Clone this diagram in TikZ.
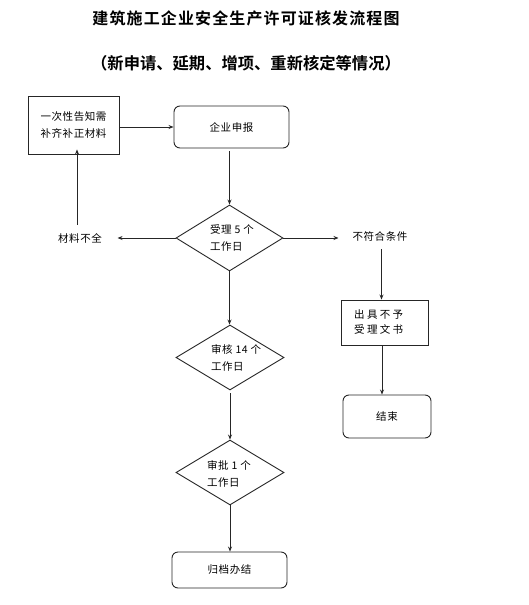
\documentclass[tikz,border=0pt]{standalone}
\usepackage{fontspec}
\newfontfamily\cjk{Noto Sans CJK SC}
\newfontfamily\cjkb{Noto Sans CJK SC Bold}
\usetikzlibrary{shapes.geometric,arrows.meta}
\begin{document}
\begin{tikzpicture}[x=1pt,y=-1pt,
  every node/.style={font=\cjk\fontsize{10.5}{17}\selectfont\addfontfeature{LetterSpace=5}, inner sep=0pt},
  line/.style={draw=black!85, line width=0.9pt},
  arr/.style={line, -{Stealth[length=5pt,width=4pt]}},
  sbox/.style={line},
  dia/.style={line, diamond, minimum width=107pt, minimum height=66pt, inner sep=0pt},
  lbl/.style={anchor=west, align=left}
]
\useasboundingbox (0,0) rectangle (529,605);
% titles
\node[font=\cjkb\fontsize{16}{18}\selectfont\addfontfeature{LetterSpace=7}] (t1) at (246,18) {建筑施工企业安全生产许可证核发流程图};
\node[font=\cjkb\fontsize{16.3}{18}\selectfont] (t2) at (246,63) {（新申请、延期、增项、重新核定等情况）};
% boxes
\node[sbox, minimum width=91pt, minimum height=58pt, align=center] (notice) at (73.5,125) {一次性告知需\\补齐补正材料};
\node[line, rounded corners=6pt, minimum width=115pt, minimum height=42pt] (apply) at (231.5,127) {企业申报};
\node[dia] (d1) at (229.5,238) {};
\node[lbl] (d1t) at (210,238) {受理 5 个\\工作日};
\node (lack) at (80,238) {材料不全};
\node (nok) at (380,236) {不符合条件};
\node[sbox, minimum width=87pt, minimum height=45pt] (refuse) at (384.5,322.5) {};
\node[lbl, font=\cjk\fontsize{10.5}{15}\selectfont\addfontfeature{LetterSpace=22}] (refuset) at (354,322.5) {出具不予\\受理文书};
\node[line, rounded corners=6pt, minimum width=88pt, minimum height=43pt] (end) at (387,416.5) {结束};
\node[dia, minimum width=108pt, minimum height=65pt] (d2) at (230,357.5) {};
\node[lbl] (d2t) at (211,358) {审核 14 个\\工作日};
\node[dia, minimum width=108pt, minimum height=65pt] (d3) at (230,472.5) {};
\node[lbl] (d3t) at (207,474) {审批 1 个\\工作日};
\node[line, rounded corners=6pt, minimum width=115pt, minimum height=36pt] (arch) at (229.5,570) {归档办结};
% connectors
\draw[arr] (notice.east |- apply.west) -- (apply.west);
\draw[arr] ([yshift=-3pt]apply.south -| d1.north) -- (d1.north);
\draw[arr] (d1.west) -- ++(-58,0) coordinate (lackend);
\draw[arr] (lack.north -| 77,0) ++(0,-8) coordinate (ups) -- ([yshift=5pt]notice.south -| ups);
\draw[arr] (d1.east) -- ([xshift=-14pt]nok.west |- d1.east);
\draw[arr] ([yshift=-8pt]nok.south -| refuse.north) ++(-3,0) coordinate (nk) -- (refuse.north -| nk);
\draw[arr] (refuse.south -| end.north) ++(-5,0) coordinate (rs) -- (end.north -| rs);
\draw[arr] (d1.south) -- (d2.north -| d1.south);
\draw[arr] ([yshift=-3pt]d2.south) -- (d3.north);
\draw[arr] (d3.south) -- (arch.north -| d3.south);
\end{tikzpicture}
\end{document}
